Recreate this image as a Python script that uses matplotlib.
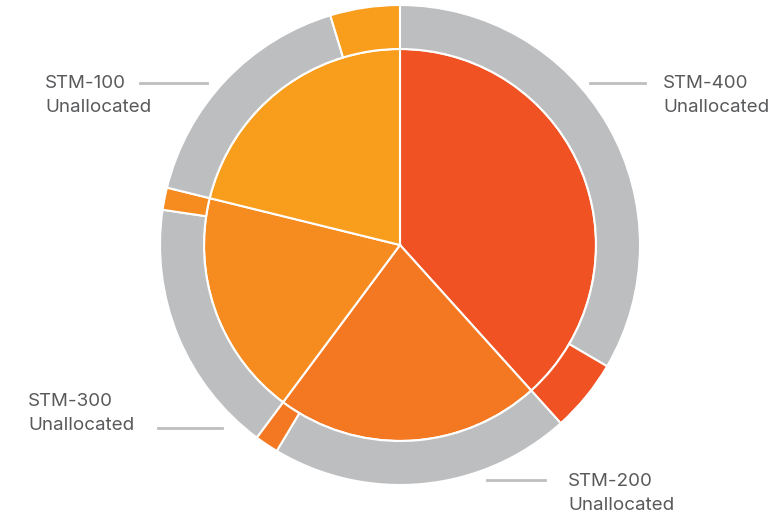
import matplotlib.pyplot as plt
from matplotlib.lines import Line2D

# Port groups, read clockwise from 12 o'clock
ports = ["STM-400", "STM-200", "STM-300", "STM-100"]
allocated = [4.9, 1.6, 1.5, 4.7]
unallocated = [33.5, 20.3, 17.2, 16.5]

port_colors = ["#F05223", "#F37821", "#F68B1F", "#F99D1C"]
gray = "#BCBEC0"
text_color = "#58595B"

W, H = 784, 513
fig = plt.figure(figsize=(W / 100, H / 100), dpi=100)

# pie centre at (400, 245) px, outer radius 240 px
cx, cy, r = 400, 245, 240
ax = fig.add_axes([(cx - r) / W, (H - cy - r) / H, 2 * r / W, 2 * r / H])

totals = [a + u for a, u in zip(allocated, unallocated)]
inner_r = 196 / 240

ax.pie(totals, colors=port_colors, radius=inner_r, startangle=90,
       counterclock=False,
       wedgeprops=dict(edgecolor="white", linewidth=1.5))

outer_vals, outer_cols = [], []
for a, u, c in zip(allocated, unallocated, port_colors):
    outer_vals += [u, a]
    outer_cols += [gray, c]
ax.pie(outer_vals, colors=outer_cols, radius=1.0, startangle=90,
       counterclock=False,
       wedgeprops=dict(width=1.0 - inner_r, edgecolor="white", linewidth=1.5))

ax.set_xlim(-1, 1)
ax.set_ylim(-1, 1)
ax.set_aspect("equal")
ax.axis("off")

# callout labels (pixel positions): text x, first line y, leader x0, x1, y
labels = {
    "STM-400": (663, 84, 590, 645, 83),
    "STM-100": (45, 84, 140, 207, 83),
    "STM-300": (28, 401, 158, 222, 428),
    "STM-200": (568, 481, 487, 545, 480),
}
for name, (tx, ty, x0, x1, ly) in labels.items():
    fig.text(tx / W, 1 - ty / H, name, color=text_color, fontsize=13.5,
             family="Inter", va="center", ha="left")
    fig.text(tx / W, 1 - (ty + 24) / H, "Unallocated", color=text_color,
             fontsize=13.5, family="Inter", va="center", ha="left")
    fig.add_artist(Line2D([x0 / W, x1 / W], [1 - ly / H, 1 - ly / H],
                          transform=fig.transFigure, color=gray, lw=2))

fig.savefig("out.png", dpi=100)
